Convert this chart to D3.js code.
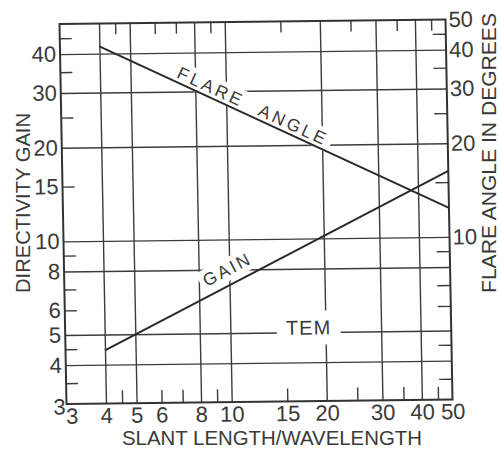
<!DOCTYPE html>
<html>
<head>
<meta charset="utf-8">
<script src="https://cdn.jsdelivr.net/npm/d3@7"></script>
<style>
  html, body { margin: 0; background: #fff; }
  svg { display: block; }
  text { font-family: "Liberation Sans", Arial, sans-serif; fill: #3a3a3a; }
</style>
</head>
<body>
<svg id="chart" width="499" height="450"></svg>
<script>
// Slant length / wavelength (horizontal axis)
const xTickLabels = [3, 4, 5, 6, 8, 10, 15, 20, 30, 40, 50];
const xGridValues = [4, 5, 8, 10, 20, 30, 40];
const xMinorTicks = [4.5, 6, 7, 9, 15, 25, 35, 45];

// Directivity gain (left axis)
const yLeftTickLabels = [3, 4, 5, 6, 8, 10, 15, 20, 30, 40];
const yGridValues = [4, 5, 8, 10, 20, 30, 40];
const yMinorTicks = [3.5, 4.5, 6, 7, 9, 15, 25, 35, 45];

// Flare angle in degrees (right axis)
const yRightTickLabels = [10, 20, 30, 40, 50];

// Curves: both straight lines on log-log paper
const slantLength = [4, 50];
const flareAngle = [42.2, 12.4];
const directivityGain = [4.45, 16.3];

const W = 386, H = 380;
const ink = "#333";

const svg = d3.select("#chart");

const x = d3.scaleLog().domain([3, 50]).range([0, W]);
const yLeft = d3.scaleLog().domain([3, 50]).range([H, 0]);
const yRight = d3.scaleLog().domain([3, 50]).range([H, 0]);

// plotting sheet sits slightly askew on the page
const g = svg.append("g")
  .attr("transform", "matrix(1,-0.01166,0.01842,1,59.5,24)");

function strip(sel) { sel.select(".domain").remove(); return sel; }

// ---- grid ----
const grid = g.append("g");
strip(grid.append("g")
  .attr("transform", `translate(0,${H})`)
  .call(d3.axisBottom(x).tickValues(xGridValues).tickSize(-H).tickFormat("")));
strip(grid.append("g")
  .call(d3.axisLeft(yLeft).tickValues(yGridValues).tickSize(-W).tickFormat("")));
grid.selectAll("line").attr("stroke", "#3c3c3c").attr("stroke-width", 1.4);

// ---- curve labels with cleared background ----
const labels = g.append("g");
const lineAngle = (ys, vals) => {
  const dx = x(slantLength[1]) - x(slantLength[0]);
  const dy = ys(vals[1]) - ys(vals[0]);
  return Math.atan2(dy, dx);
};
function interp(vals, xv) {
  const t = Math.log(xv / slantLength[0]) / Math.log(slantLength[1] / slantLength[0]);
  return Math.exp(Math.log(vals[0]) + t * (Math.log(vals[1]) - Math.log(vals[0])));
}
function addLabel(txt, px, py, angleRad, offset, size, spacing, padX, padY) {
  const lg = labels.append("g")
    .attr("transform", `translate(${px},${py}) rotate(${angleRad * 180 / Math.PI})`);
  const rect = lg.append("rect").attr("fill", "#fff");
  const t = lg.append("text")
    .attr("x", 0).attr("y", -offset)
    .attr("text-anchor", "middle")
    .attr("dominant-baseline", "central")
    .style("font-size", size + "px")
    .style("letter-spacing", spacing + "px")
    .text(txt);
  const b = t.node().getBBox();
  rect.attr("x", b.x - padX).attr("y", b.y + 2 - padY)
    .attr("width", b.width + 2 * padX).attr("height", b.height - 4 + 2 * padY);
}

const aFlare = lineAngle(yRight, flareAngle);
const aGain = lineAngle(yLeft, directivityGain);
[[8.7, "FLARE"], [15.8, "ANGLE"]].forEach(([xv, w]) => {
  addLabel(w, x(xv), yRight(interp(flareAngle, xv)), aFlare, 10, 17.5, 3.1, 4, 3);
});
addLabel("GAIN", x(10.35), yLeft(interp(directivityGain, 10.35)), aGain, 15, 17.5, 2.5, 4, 3);
addLabel("TEM", x(17.7), yLeft(5) - 4.6, 0, 0, 20, 1.2, 9, 8);

// ---- minor ticks on all four edges ----
const minor = g.append("g");
strip(minor.append("g").attr("transform", `translate(0,${H})`)
  .call(d3.axisBottom(x).tickValues(xMinorTicks).tickSize(-13).tickFormat("")));
strip(minor.append("g")
  .call(d3.axisTop(x).tickValues(xMinorTicks).tickSize(-11).tickFormat("")));
strip(minor.append("g")
  .call(d3.axisLeft(yLeft).tickValues(yMinorTicks).tickSize(-12).tickFormat("")));
strip(minor.append("g").attr("transform", `translate(${W},0)`)
  .call(d3.axisRight(yRight).tickValues(yMinorTicks).tickSize(-13).tickFormat("")));
minor.selectAll("line").attr("stroke", "#3c3c3c").attr("stroke-width", 1.4);

// ---- frame ----
g.append("rect").attr("width", W).attr("height", H)
  .attr("fill", "none").attr("stroke", ink).attr("stroke-width", 2);

// ---- tick labels ----
const fmt = d3.format("d");
const bottomAxis = strip(g.append("g").attr("transform", `translate(0,${H})`)
  .call(d3.axisBottom(x).tickValues(xTickLabels).tickSize(0).tickPadding(4).tickFormat(fmt)));
bottomAxis.selectAll("text").filter(d => d === 3).attr("dx", 5);

const leftAxis = strip(g.append("g")
  .call(d3.axisLeft(yLeft).tickValues(yLeftTickLabels).tickSize(0).tickPadding(4).tickFormat(fmt)));
leftAxis.selectAll("text").filter(d => d === 3).attr("dx", 3).attr("dy", "0.45em");

strip(g.append("g").attr("transform", `translate(${W},0)`)
  .call(d3.axisRight(yRight).tickValues(yRightTickLabels).tickSize(0).tickPadding(3).tickFormat(fmt)));

g.selectAll(".tick text")
  .attr("font-family", null)
  .style("font-family", '"Liberation Sans", Arial, sans-serif')
  .style("font-size", "22px")
  .attr("fill", "#3a3a3a");

// ---- curves ----
const flareLine = d3.line().x((d, i) => x(slantLength[i])).y(d => yRight(d));
const gainLine = d3.line().x((d, i) => x(slantLength[i])).y(d => yLeft(d));
g.append("path").attr("d", flareLine(flareAngle))
  .attr("fill", "none").attr("stroke", "#2a2a2a").attr("stroke-width", 2);
g.append("path").attr("d", gainLine(directivityGain))
  .attr("fill", "none").attr("stroke", "#2a2a2a").attr("stroke-width", 2);

// ---- axis titles ----
svg.append("text")
  .attr("transform", "translate(22,203) rotate(-90)")
  .attr("text-anchor", "middle").attr("dominant-baseline", "central")
  .attr("textLength", 180).attr("lengthAdjust", "spacingAndGlyphs")
  .style("font-size", "21px")
  .text("DIRECTIVITY GAIN");

svg.append("text")
  .attr("transform", "translate(488.5,153) rotate(-90)")
  .attr("text-anchor", "middle").attr("dominant-baseline", "central")
  .attr("textLength", 280).attr("lengthAdjust", "spacingAndGlyphs")
  .style("font-size", "21px")
  .text("FLARE ANGLE IN DEGREES");

svg.append("text")
  .attr("x", 272).attr("y", 445)
  .attr("text-anchor", "middle")
  .attr("textLength", 300).attr("lengthAdjust", "spacingAndGlyphs")
  .style("font-size", "21px")
  .text("SLANT LENGTH/WAVELENGTH");
</script>
</body>
</html>
